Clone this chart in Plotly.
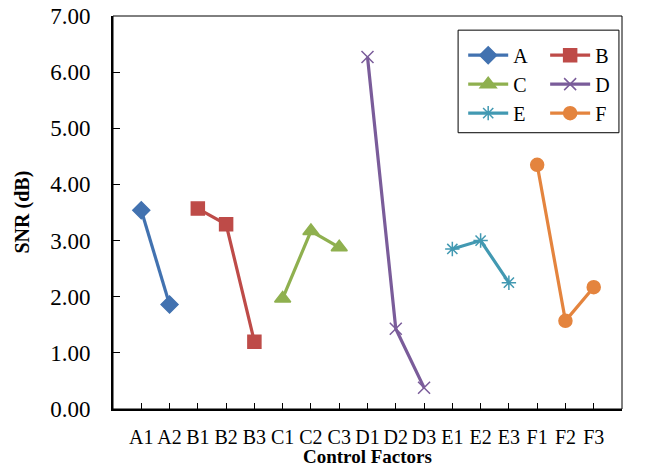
import plotly.graph_objects as go

categories = ["A1","A2","B1","B2","B3","C1","C2","C3","D1","D2","D3","E1","E2","E3","F1","F2","F3"]

a_x = ["A1","A2"]; a_y = [3.54, 1.86]
b_x = ["B1","B2","B3"]; b_y = [3.57, 3.29, 1.20]
c_x = ["C1","C2","C3"]; c_y = [1.97, 3.17, 2.88]
d_x = ["D1","D2","D3"]; d_y = [6.27, 1.43, 0.38]
e_x = ["E1","E2","E3"]; e_y = [2.85, 3.00, 2.25]
f_x = ["F1","F2","F3"]; f_y = [4.35, 1.57, 2.17]

y_ticks = [0, 1, 2, 3, 4, 5, 6, 7]

series = [
    ("A", a_x, a_y, "#4272B0", "diamond", 13, "legend"),
    ("B", b_x, b_y, "#BE4B48", "square", 13, "legend2"),
    ("C", c_x, c_y, "#8FB04F", "triangle-up", 14, "legend"),
    ("D", d_x, d_y, "#7A5C9A", "x-thin-open", 12, "legend2"),
    ("E", e_x, e_y, "#4299B2", "asterisk-open", 12, "legend"),
    ("F", f_x, f_y, "#E4843E", "circle", 13, "legend2"),
]

fig = go.Figure()
for name, xs, ys, col, sym, sz, lg in series:
    fig.add_trace(go.Scatter(
        x=xs, y=ys, name=name, mode="lines+markers",
        line=dict(color=col, width=3.2),
        marker=dict(symbol=sym, size=sz, color=col, line=dict(color=col, width=1.5)),
        legend=lg, legendgroup=name,
    ))

font_family = "Liberation Serif, Times New Roman, serif"

leg_common = dict(yanchor="top", xanchor="left", bgcolor="rgba(0,0,0,0)",
                  font=dict(size=20, family=font_family), tracegroupgap=0, itemwidth=40)

fig.update_layout(
    width=651, height=466,
    margin=dict(l=113, r=29, t=16, b=57),
    paper_bgcolor="white", plot_bgcolor="white",
    font=dict(family=font_family, color="black", size=18),
    showlegend=True,
    legend=dict(x=0.688, y=0.95, **leg_common),
    legend2=dict(x=0.849, y=0.95, **leg_common),
    xaxis=dict(
        type="category", categoryorder="array", categoryarray=categories,
        tickvals=categories, range=[-1, 17],
        showgrid=False, zeroline=False, automargin=False,
        showline=True, linecolor="black", linewidth=2,
        ticks="inside", ticklen=6, tickcolor="black", tickwidth=1,
        tickfont=dict(size=20), ticklabelstandoff=9,
    ),
    yaxis=dict(
        range=[0, 7], tickvals=y_ticks,
        tickformat=".2f", ticklabeloverflow="allow",
        showgrid=False, zeroline=False, automargin=False,
        showline=True, linecolor="black", linewidth=2,
        ticks="inside", ticklen=7, tickcolor="black", tickwidth=1,
        tickfont=dict(size=23), ticklabelstandoff=16,
    ),
    annotations=[
        dict(text="<b>Control Factors</b>", xref="paper", yref="paper",
             x=0.5, y=0, yshift=-47, xanchor="center", yanchor="middle",
             showarrow=False, font=dict(size=19, family=font_family)),
        dict(text="<b>SNR (dB)</b>", xref="paper", yref="paper",
             x=0, xshift=-91, y=0.5, xanchor="center", yanchor="middle",
             textangle=-90, showarrow=False, font=dict(size=20, family=font_family)),
    ],
    shapes=[
        dict(type="rect", xref="paper", yref="paper", x0=0, x1=1, y0=0, y1=1,
             line=dict(color="black", width=1)),
        dict(type="rect", xref="paper", yref="paper", x0=0.678, x1=0.994, y0=0.703, y1=0.964,
             line=dict(color="black", width=1)),
    ],
)

fig.write_html("out.html",
               config={"displayModeBar": False},
               post_script="document.body.style.margin='0';document.body.style.overflow='hidden';")
